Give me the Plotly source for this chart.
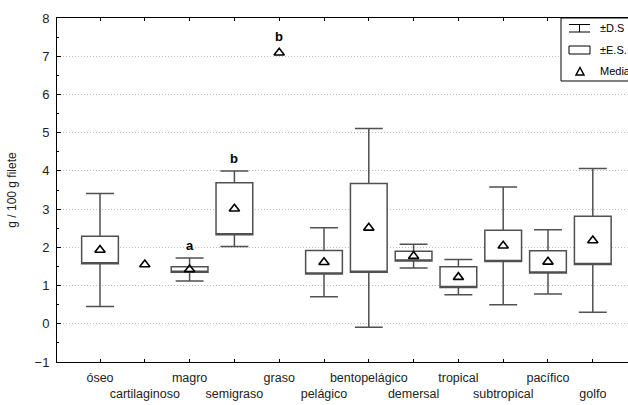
import plotly.graph_objects as go

categories = ["óseo", "cartilaginoso", "magro", "semigraso", "graso", "pelágico",
              "bentopelágico", "demersal", "tropical", "subtropical", "pacífico", "golfo"]
means = [1.93, 1.55, 1.42, 3.01, 7.09, 1.61, 2.51, 1.77, 1.22, 2.04, 1.62, 2.18]
se = [0.36, None, 0.07, 0.68, None, 0.31, 1.16, 0.13, 0.27, 0.41, 0.29, 0.63]
sd = [1.48, None, 0.30, 0.99, None, 0.90, 2.60, 0.31, 0.46, 1.54, 0.84, 1.88]
letters = ["", "", "a", "b", "b", "", "", "", "", "", "", ""]
y_ticks = [-1, 0, 1, 2, 3, 4, 5, 6, 7, 8]
legend_labels = ["±D.S", "±E.S.", "Media"]

FONT = "Liberation Sans, Arial, sans-serif"
LINE = "#505050"

xs = list(range(len(categories)))
bx = [i for i in xs if se[i] is not None]

fig = go.Figure()
fig.add_trace(go.Box(
    x=bx,
    q1=[means[i] - se[i] for i in bx],
    median=[means[i] - se[i] for i in bx],
    q3=[means[i] + se[i] for i in bx],
    lowerfence=[means[i] - sd[i] for i in bx],
    upperfence=[means[i] + sd[i] for i in bx],
    width=0.82, whiskerwidth=0.76,
    fillcolor="white", line=dict(color=LINE, width=1.5),
    showlegend=False, hoverinfo="skip",
))
fig.add_trace(go.Scatter(
    x=xs, y=means, mode="markers",
    marker=dict(symbol="triangle-up-open", size=9, color="black", line=dict(width=1.6, color="black")),
    showlegend=False,
))

for i in xs:
    if letters[i]:
        top = means[i] + (sd[i] if sd[i] is not None else 0.1)
        fig.add_annotation(x=i, y=top, text="<b>%s</b>" % letters[i], showarrow=False,
                           yanchor="bottom", yshift=3, font=dict(family=FONT, size=13, color="black"))

ticktext = [c if i % 2 == 0 else "<br>" + c for i, c in enumerate(categories)]

fig.update_xaxes(
    range=[-0.96, 11.786], tickmode="array", tickvals=xs, ticktext=ticktext, tickangle=0,
    automargin=False, ticklabelstandoff=4,
    showline=True, linecolor="black", linewidth=1, mirror="ticks",
    ticks="inside", ticklen=3, tickcolor="black", showgrid=False, zeroline=False,
    tickfont=dict(family=FONT, size=12.5, color="#222"),
)
fig.update_yaxes(
    range=[-1, 8], tickvals=y_ticks, showline=True, linecolor="black", linewidth=1,
    automargin=False, ticklabelstandoff=4,
    ticks="inside", ticklen=4, tickcolor="black",
    minor=dict(ticks="inside", ticklen=2, dtick=0.5, tickcolor="black", showgrid=False),
    showgrid=True, gridcolor="#bdbdbd", griddash="1px,2px", gridwidth=1, zeroline=False,
    tickfont=dict(family=FONT, size=13, color="#222"),
    title=dict(text="g / 100 g filete", font=dict(family=FONT, size=12, color="#222"), standoff=15),
)

# legend box (paper coords)
L, T, W, H = 57, 18, 571, 344
def px(x):
    return (x - L) / W
def py(y):
    return (T + H - y) / H

fig.add_shape(type="rect", xref="paper", yref="paper", x0=px(561), x1=px(660), y0=py(81), y1=py(18),
              line=dict(color="black", width=1), fillcolor="white", layer="above")
# SD icon
for yy in (24.5, 32):
    fig.add_shape(type="line", xref="paper", yref="paper", x0=px(569), x1=px(590), y0=py(yy), y1=py(yy),
                  line=dict(color="black", width=1), layer="above")
fig.add_shape(type="line", xref="paper", yref="paper", x0=px(579.5), x1=px(579.5), y0=py(24.5), y1=py(32),
              line=dict(color="black", width=1), layer="above")
# SE icon
fig.add_shape(type="rect", xref="paper", yref="paper", x0=px(569), x1=px(590), y0=py(54), y1=py(46),
              line=dict(color="black", width=1), fillcolor="white", layer="above")
# mean icon
fig.add_shape(type="path", xref="paper", yref="paper",
              path="M %f %f L %f %f L %f %f Z" % (px(576), py(75), px(584), py(75), px(580), py(67.5)),
              line=dict(color="black", width=1.5), layer="above")
for yy, lab in zip((28, 50, 71), legend_labels):
    fig.add_annotation(xref="paper", yref="paper", x=px(598), y=py(yy), text=lab, showarrow=False,
                       xanchor="left", yanchor="middle", font=dict(family=FONT, size=11, color="black"))

fig.update_layout(
    width=628, height=405, margin=dict(l=57, r=0, t=18, b=43),
    plot_bgcolor="white", paper_bgcolor="white",
)
fig.write_html("out.html", config={"displayModeBar": False},
               post_script="document.body.style.margin='0';document.body.style.overflow='hidden';")
